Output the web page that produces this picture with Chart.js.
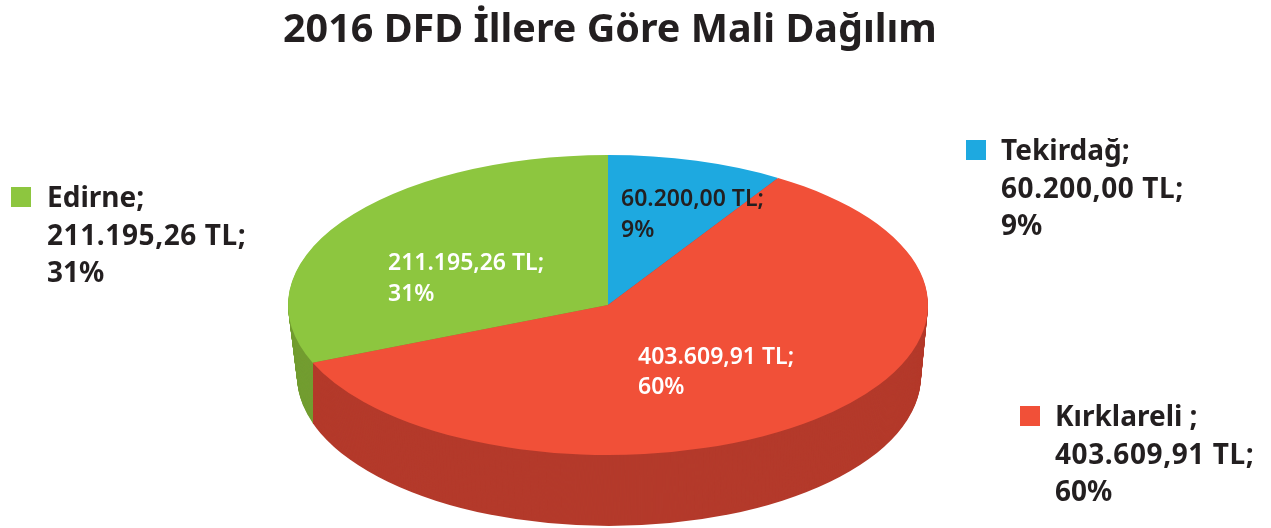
<!DOCTYPE html>
<html>

<head>
  <meta charset="UTF-8">
  <title>2016 DFD İllere Göre Mali Dağılım</title>
  <script src="https://cdn.jsdelivr.net/npm/chart.js@4"></script>
  <style>
    html, body { margin: 0; background: #fff; }
    #wrap { width: 1271px; height: 528px; }
  </style>
  <script>
    const chartTitle = '2016 DFD İllere Göre Mali Dağılım';
    const provinces = ['Tekirdağ', 'Kırklareli', 'Edirne'];
    const legendNames = ['Tekirdağ;', 'Kırklareli ;', 'Edirne;'];
    const amounts = [60200.00, 403609.91, 211195.26];
    const amountLabels = ['60.200,00 TL;', '403.609,91 TL;', '211.195,26 TL;'];
    const percentLabels = ['9%', '60%', '31%'];

    const sliceColors = ['#1ea9e0', '#f15038', '#8dc63f'];
    const wallColors = ['#17789f', '#b43a2b', '#739d31'];
    const labelColors = ['#231f20', '#ffffff', '#ffffff'];
    const inkColor = '#231f20';

    // where the flattened pie ends up on the canvas
    const topFace = { x: 608, y: 305, rx: 320, ry: 150 };
    const bottomFace = { x: 609, y: 376, rx: 312, ry: 150 };

    function flatten(ctx, el, face) {
      ctx.translate(face.x, face.y);
      ctx.scale(face.rx / el.outerRadius, face.ry / el.outerRadius);
      ctx.translate(-el.x, -el.y);
    }

    function fillDisc(ctx, el, face, color, clipX, clipW) {
      ctx.save();
      ctx.beginPath();
      ctx.rect(clipX, 0, clipW, 528);
      ctx.clip();
      flatten(ctx, el, face);
      ctx.beginPath();
      ctx.arc(el.x, el.y, el.outerRadius, 0, Math.PI * 2);
      ctx.fillStyle = color;
      ctx.fill();
      ctx.restore();
    }

    const tiltPlugin = {
      id: 'tilt',
      beforeDatasetsDraw(chart) {
        const ctx = chart.ctx;
        const arcs = chart.getDatasetMeta(0).data;
        const left = arcs[2];
        // the green and red walls meet on a vertical seam under the slice edge
        const seamX = Math.round(topFace.x + Math.sin(left.startAngle + Math.PI / 2) * topFace.rx);

        // side wall: stack darker copies from the bottom up
        for (let i = 71; i > 0; i--) {
          const t = i / 71;
          const face = {
            x: topFace.x + (bottomFace.x - topFace.x) * t,
            y: topFace.y + (bottomFace.y - topFace.y) * t,
            rx: topFace.rx + (bottomFace.rx - topFace.rx) * t,
            ry: topFace.ry
          };
          fillDisc(ctx, left, face, wallColors[2], 0, seamX);
          fillDisc(ctx, left, face, wallColors[1], seamX, chart.width - seamX);
        }
        ctx.save();
        flatten(ctx, left, topFace);
      },
      afterDatasetsDraw(chart) {
        chart.ctx.restore();
      }
    };

    const textPlugin = {
      id: 'texts',
      afterDraw(chart) {
        const ctx = chart.ctx;
        ctx.save();
        ctx.textBaseline = 'alphabetic';
        ctx.textAlign = 'left';

        ctx.fillStyle = inkColor;
        ctx.font = '700 39.5px "Noto Sans"';
        ctx.fillText(chartTitle, 283, 42);

        // labels on the slices
        const inside = [[621, 206, 237], [638, 364, 394], [388, 270, 301]];
        ctx.font = '600 23px "Noto Sans"';
        inside.forEach(function (p, n) {
          ctx.fillStyle = labelColors[n];
          ctx.fillText(amountLabels[n], p[0], p[1]);
          ctx.fillText(percentLabels[n], p[0], p[2]);
        });

        // legends: swatch and three lines
        const outside = [[966, 140, 1001, 160], [1020, 406, 1055, 426], [11, 187, 47, 207]];
        outside.forEach(function (p, n) {
          ctx.fillStyle = sliceColors[n];
          ctx.fillRect(p[0], p[1], 20, 20);
          ctx.fillStyle = inkColor;
          ctx.font = '700 28px "Noto Sans"';
          ctx.fillText(legendNames[n], p[2], p[3]);
          ctx.letterSpacing = '0.6px';
          ctx.fillText(amountLabels[n], p[2], p[3] + 38);
          ctx.letterSpacing = '0px';
          ctx.fillText(percentLabels[n], p[2], p[3] + 75);
        });
        ctx.restore();
      }
    };

    window.addEventListener('DOMContentLoaded', function () {
      const ctx = document.getElementById('myChart').getContext('2d');
      new Chart(ctx, {
        type: 'pie',
        data: {
          labels: provinces,
          datasets: [{
            data: amounts,
            backgroundColor: sliceColors,
            borderWidth: 0
          }]
        },
        options: {
          responsive: false,
          animation: false,
          events: [],
          plugins: {
            legend: { display: false },
            tooltip: { enabled: false }
          }
        },
        plugins: [tiltPlugin, textPlugin]
      });
    });
  </script>
</head>

<body>
  <div id="wrap">
    <canvas id="myChart" width="1271" height="528"></canvas>
  </div>
</body>

</html>
